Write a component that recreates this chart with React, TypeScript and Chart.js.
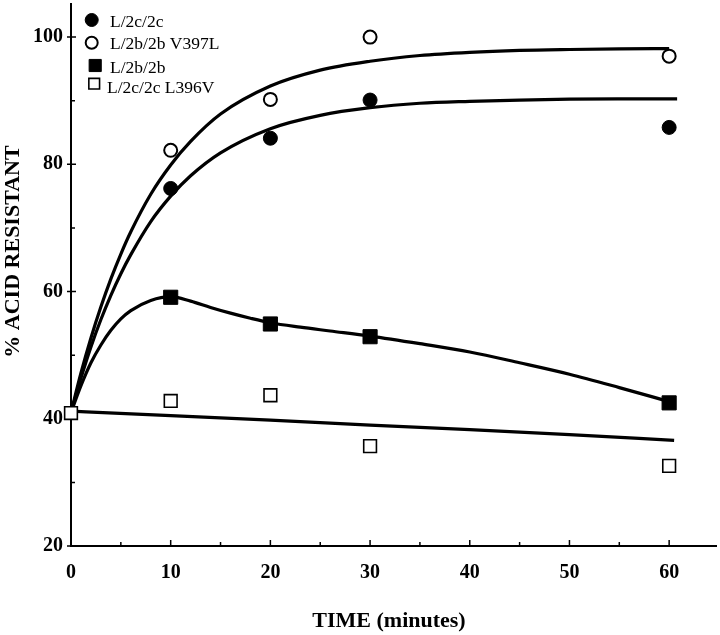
import React, { useEffect, useRef } from 'react';
import { Chart, registerables } from 'chart.js';

Chart.register(...registerables);

const FONT = '"Liberation Serif", "Times New Roman", serif';

// Axis ticks
const xTicks = [0, 10, 20, 30, 40, 50, 60];
const xMinorTicks = [5, 15, 25, 35, 45, 55];
const yTicks = [20, 40, 60, 80, 100];
const yMinorTicks = [30, 50, 70, 90];
const xAxisTitle = 'TIME (minutes)';
const yAxisTitle = '% ACID RESISTANT';

// Series labels
const seriesLabels = ['L/2c/2c', 'L/2b/2b V397L', 'L/2b/2b', 'L/2c/2c L396V'];

// Measured points
const timeA = [10, 20, 30, 60];
const valuesA = [76.2, 84.1, 90.1, 85.8];
const timeB = [10, 20, 30, 60];
const valuesB = [82.2, 90.2, 100, 97];
const timeC = [10, 20, 30, 60];
const valuesC = [59.1, 54.9, 52.9, 42.5];
const timeD = [0, 10, 20, 30, 60];
const valuesD = [40.9, 42.8, 43.7, 35.7, 32.6];

// Fitted curves
const fitTimeA = [0, 1, 2, 3, 4, 5, 6, 8, 10, 12, 15, 20, 25, 30, 35, 40, 45, 50, 55, 60.8];
const fitA = [41, 46.4, 51.3, 55.6, 59.4, 62.8, 65.8, 71, 75, 78.2, 81.8, 85.6, 87.7, 88.9, 89.6, 89.9, 90.1, 90.25, 90.3, 90.3];
const fitTimeB = [0, 1, 2, 3, 4, 5, 6, 8, 10, 12, 15, 20, 25, 30, 35, 40, 45, 50, 55, 60];
const fitB = [41, 47.2, 52.7, 57.6, 62, 65.9, 69.4, 75.3, 79.9, 83.6, 87.9, 92.3, 94.8, 96.2, 97.1, 97.6, 97.9, 98.05, 98.15, 98.2];
const fitTimeC = [0, 1, 2, 3, 4, 5, 6, 8, 10, 12, 14, 16, 18, 20, 23, 26, 30, 35, 40, 45, 50, 55, 60];
const fitC = [41, 45.2, 48.8, 51.6, 53.9, 55.7, 57, 58.6, 59.2, 58.5, 57.5, 56.6, 55.8, 55.1, 54.4, 53.8, 53, 51.8, 50.5, 48.8, 47, 44.9, 42.7];
const fitTimeD = [0, 10, 20, 30, 40, 50, 60.5];
const fitD = [41.2, 40.5, 39.8, 39, 38.3, 37.5, 36.6];

const pts = (xs: number[], ys: number[]) => xs.map((x, i) => ({ x, y: ys[i] }));

const markerStyles = [
  { pointStyle: 'circle', pointRadius: 7, backgroundColor: '#000', borderColor: '#000', borderWidth: 1 },
  { pointStyle: 'circle', pointRadius: 6.5, backgroundColor: '#fff', borderColor: '#000', borderWidth: 2 },
  { pointStyle: 'rect', pointRadius: 10, backgroundColor: '#000', borderColor: '#000', borderWidth: 1 },
  { pointStyle: 'rect', pointRadius: 9, backgroundColor: '#fff', borderColor: '#000', borderWidth: 1.6 },
];

const legendMarkerX = [91.7, 91.7, 95.2, 94.2];
const legendMarkerY = [20, 42.7, 65.5, 83.7];
const legendTextX = [110, 110, 110, 107];
const legendTextY = [26.5, 49, 73, 92.5];

const decorPlugin = {
  id: 'decor',
  afterDraw(chart: any) {
    const { ctx, chartArea, scales } = chart;
    const xs = scales.x;
    const ys = scales.y;
    ctx.save();
    ctx.strokeStyle = '#000';
    ctx.lineWidth = 1.5;
    ctx.beginPath();
    xTicks.forEach((v) => {
      const p = xs.getPixelForValue(v);
      if (v === 0) return;
      ctx.moveTo(p, chartArea.bottom);
      ctx.lineTo(p, chartArea.bottom - 6);
    });
    xMinorTicks.forEach((v) => {
      const p = xs.getPixelForValue(v);
      ctx.moveTo(p, chartArea.bottom);
      ctx.lineTo(p, chartArea.bottom - 4);
    });
    yTicks.forEach((v) => {
      const p = ys.getPixelForValue(v);
      if (v === 40) return;
      ctx.moveTo(chartArea.left - 4, p);
      ctx.lineTo(chartArea.left + 5, p);
    });
    yMinorTicks.forEach((v) => {
      const p = ys.getPixelForValue(v);
      ctx.moveTo(chartArea.left, p);
      ctx.lineTo(chartArea.left + 4, p);
    });
    ctx.stroke();

    // Axis titles
    ctx.fillStyle = '#000';
    ctx.font = `bold 22px ${FONT}`;
    ctx.textAlign = 'center';
    ctx.textBaseline = 'middle';
    ctx.fillText(xAxisTitle, 389, 621);
    ctx.save();
    ctx.translate(13, 251.5);
    ctx.rotate(-Math.PI / 2);
    ctx.fillText(yAxisTitle, 0, 0);
    ctx.restore();

    // Legend
    ctx.font = `17.5px ${FONT}`;
    ctx.textAlign = 'left';
    ctx.textBaseline = 'alphabetic';
    seriesLabels.forEach((label, i) => {
      const st = markerStyles[i];
      const cx = legendMarkerX[i];
      const cy = legendMarkerY[i];
      ctx.beginPath();
      if (st.pointStyle === 'circle') {
        ctx.arc(cx, cy, st.pointRadius - 0.5, 0, Math.PI * 2);
      } else {
        const h = st.pointRadius * Math.SQRT1_2 - 1;
        ctx.rect(cx - h, cy - h, 2 * h, 2 * h);
      }
      ctx.fillStyle = st.backgroundColor;
      ctx.fill();
      ctx.lineWidth = st.borderWidth;
      ctx.strokeStyle = '#000';
      ctx.stroke();
      ctx.fillStyle = '#000';
      ctx.fillText(label, legendTextX[i], legendTextY[i]);
    });
    ctx.restore();
  },
};

export default function App() {
  const ref = useRef<HTMLCanvasElement | null>(null);
  useEffect(() => {
    if (!ref.current) return;
    const lineDs = (label: string, xs: number[], ys: number[]) => ({
      label,
      data: pts(xs, ys),
      showLine: true,
      borderColor: '#000',
      borderWidth: 3.2,
      pointRadius: 0,
      pointHoverRadius: 0,
      cubicInterpolationMode: 'monotone' as const,
      fill: false,
      order: 2,
    });
    const markDs = (i: number, xs: number[], ys: number[]) => ({
      label: seriesLabels[i],
      data: pts(xs, ys),
      showLine: false,
      clip: false,
      ...markerStyles[i],
      pointBackgroundColor: markerStyles[i].backgroundColor,
      pointBorderColor: markerStyles[i].borderColor,
      pointBorderWidth: markerStyles[i].borderWidth,
      order: 1,
    });
    const chart = new Chart(ref.current, {
      type: 'scatter',
      data: {
        datasets: [
          lineDs('fit ' + seriesLabels[0], fitTimeA, fitA),
          lineDs('fit ' + seriesLabels[1], fitTimeB, fitB),
          lineDs('fit ' + seriesLabels[2], fitTimeC, fitC),
          lineDs('fit ' + seriesLabels[3], fitTimeD, fitD),
          markDs(0, timeA, valuesA),
          markDs(1, timeB, valuesB),
          markDs(2, timeC, valuesC),
          markDs(3, timeD, valuesD),
        ] as any,
      },
      options: {
        animation: false,
        responsive: false,
        devicePixelRatio: 1,
        layout: { autoPadding: false, padding: { top: 4, right: 4, left: 0, bottom: 0 } },
        plugins: { legend: { display: false }, tooltip: { enabled: false } },
        scales: {
          x: {
            type: 'linear',
            min: 0,
            max: 64.7,
            grid: { display: false, drawTicks: false },
            border: { display: true, color: '#000', width: 2 },
            afterBuildTicks: (s: any) => {
              s.ticks = xTicks.map((v) => ({ value: v }));
            },
            afterFit: (s: any) => {
              s.height = 89;
              s.paddingLeft = 0;
              s.paddingRight = 0;
            },
            ticks: {
              color: '#000',
              padding: 15,
              maxRotation: 0,
              font: { family: FONT, size: 20, weight: 'bold' },
            },
          },
          y: {
            type: 'linear',
            min: 20,
            max: 105.2,
            grid: { display: false, drawTicks: false },
            border: { display: true, color: '#000', width: 2 },
            afterBuildTicks: (s: any) => {
              s.ticks = yTicks.map((v) => ({ value: v }));
            },
            afterFit: (s: any) => {
              s.width = 71;
              s.paddingTop = 0;
              s.paddingBottom = 0;
            },
            ticks: {
              color: '#000',
              padding: 8,
              font: { family: FONT, size: 20, weight: 'bold' },
            },
          },
        },
      } as any,
      plugins: [decorPlugin],
    });
    return () => chart.destroy();
  }, []);
  return (
    <div style={{ position: 'absolute', left: 0, top: 0, width: 720, height: 635, background: '#fff' }}>
      <canvas ref={ref} width={720} height={635} />
    </div>
  );
}
